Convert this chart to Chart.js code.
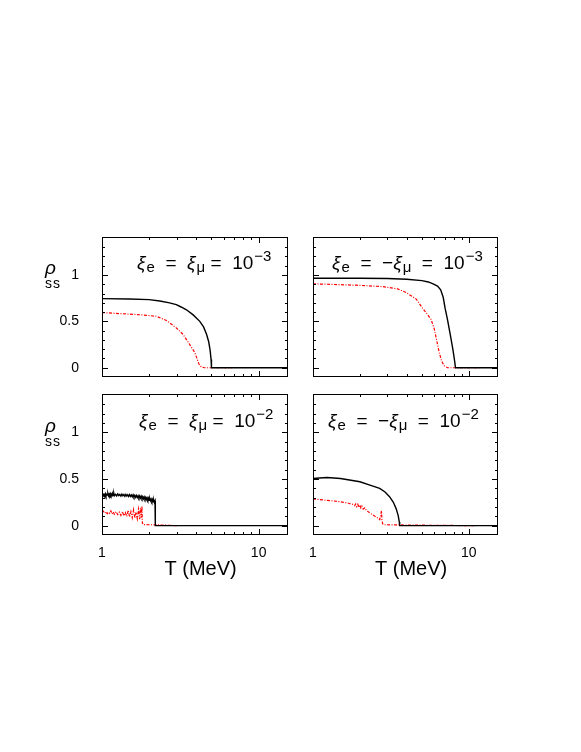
<!DOCTYPE html>
<html>
<head>
<meta charset="utf-8">
<script src="https://cdn.jsdelivr.net/npm/chart.js@4.4.1/dist/chart.umd.min.js"></script>
<style>
  body { margin:0; background:#fff; width:581px; height:752px; position:relative; overflow:hidden; font-family:"Liberation Sans", Arial, sans-serif; color:#000; }
  .panel { position:absolute; }
  .note { position:absolute; font-size:19px; line-height:19px; white-space:nowrap; }
  .note .g { font-style:italic; }
  .note .sb { font-size:15px; position:relative; top:3px; margin-left:1px; }
  .note .sp { font-size:15px; position:relative; top:-8px; margin-left:1px; }
  .rho { position:absolute; font-size:19px; line-height:19px; font-style:italic; }
  .ss { position:absolute; font-size:14px; line-height:14px; letter-spacing:1px; }
</style>
</head>
<body>
<div class="panel" style="left:52px; top:236px; width:240px; height:143px;"><canvas id="cTL"></canvas></div>
<div class="panel" style="left:303px; top:236px; width:199px; height:143px;"><canvas id="cTR"></canvas></div>
<div class="panel" style="left:52px; top:393px; width:240px; height:197px;"><canvas id="cBL"></canvas></div>
<div class="panel" style="left:303px; top:393px; width:199px; height:197px;"><canvas id="cBR"></canvas></div>

<div class="rho" style="left:45px; top:258px;">ρ</div>
<div class="ss" style="left:45px; top:276px;">ss</div>
<div class="rho" style="left:45px; top:416px;">ρ</div>
<div class="ss" style="left:45px; top:434px;">ss</div>

<div class="note" style="left:137px; top:253px;"><span class="g">ξ</span><span class="sb">e</span>&nbsp; = &nbsp;<span class="g">ξ</span><span class="sb">μ</span>&nbsp;= &nbsp;10<span class="sp">−3</span></div>
<div class="note" style="left:332px; top:253px;"><span class="g">ξ</span><span class="sb">e</span>&nbsp; = &nbsp;−<span class="g">ξ</span><span class="sb">μ</span>&nbsp; = &nbsp;10<span class="sp">−3</span></div>
<div class="note" style="left:139px; top:411px;"><span class="g">ξ</span><span class="sb">e</span>&nbsp; = &nbsp;<span class="g">ξ</span><span class="sb">μ</span>&nbsp;= &nbsp;10<span class="sp">−2</span></div>
<div class="note" style="left:328px; top:411px;"><span class="g">ξ</span><span class="sb">e</span>&nbsp; = &nbsp;−<span class="g">ξ</span><span class="sb">μ</span>&nbsp; = &nbsp;10<span class="sp">−2</span></div>

<script>
// axis ranges (T in MeV, log scale)
const xMin = 1, xMax = 15.4;
const yMin = -0.1, yMax = 1.41;

// top left: xi_e = xi_mu = 1e-3
const tlBlackT = [1, 1.5, 2, 2.34, 2.7, 2.98, 3.2, 3.46, 3.82, 4.21, 4.45, 4.65, 4.8, 4.9, 4.97, 5.0, 8, 15.4];
const tlBlackRho = [0.745, 0.742, 0.735, 0.72, 0.70, 0.68, 0.655, 0.625, 0.57, 0.50, 0.44, 0.36, 0.28, 0.19, 0.09, 0, 0, 0];
const tlRedT = [1, 1.43, 1.8, 2.22, 2.58, 2.98, 3.29, 3.6, 3.91, 4.05, 4.16, 4.3, 4.5, 6.76];
const tlRedRho = [0.595, 0.58, 0.57, 0.555, 0.51, 0.43, 0.36, 0.26, 0.165, 0.095, 0.04, 0.01, 0.0, 0.0];

// top right: xi_e = -xi_mu = 1e-3
const trBlackT = [1, 2, 3, 4, 5, 5.5, 5.9, 6.3, 6.6, 6.85, 7.05, 7.3, 7.6, 7.9, 8.1, 8.22, 10, 15.4];
const trBlackRho = [0.965, 0.965, 0.962, 0.955, 0.94, 0.925, 0.905, 0.88, 0.84, 0.76, 0.64, 0.52, 0.36, 0.2, 0.08, 0, 0, 0];
const trRedT = [1, 1.9, 2.8, 3.5, 3.97, 4.6, 5.06, 5.4, 5.73, 6.0, 6.25, 6.47, 6.7, 6.96, 7.3, 11.9];
const trRedRho = [0.905, 0.89, 0.875, 0.85, 0.81, 0.74, 0.64, 0.58, 0.52, 0.42, 0.28, 0.16, 0.07, 0.02, 0, 0];

// bottom left: xi_e = xi_mu = 1e-2 (noisy)
const blBlackT = [1.00, 1.01, 1.02, 1.03, 1.04, 1.05, 1.06, 1.07, 1.08, 1.09, 1.10, 1.11, 1.12, 1.13, 1.14, 1.15, 1.16, 1.17, 1.18, 1.19,
  1.20, 1.22, 1.24, 1.26, 1.28, 1.30, 1.32, 1.34, 1.36, 1.38, 1.40, 1.42, 1.44, 1.46, 1.48, 1.50, 1.52, 1.54, 1.56, 1.58,
  1.60, 1.62, 1.64, 1.66, 1.68, 1.70, 1.72, 1.74, 1.76, 1.78, 1.80, 1.82, 1.84, 1.86, 1.88, 1.90, 1.92, 1.94, 1.96, 1.98,
  2.00, 2.02, 2.04, 2.06, 2.08, 2.10, 2.12, 2.14, 2.16, 2.18, 2.19, 15.4];
const blBlackRho = [0.326, 0.340, 0.321, 0.335, 0.324, 0.343, 0.319, 0.336, 0.327, 0.345, 0.321, 0.338, 0.323, 0.342, 0.324, 0.337, 0.320, 0.340, 0.326, 0.346,
  0.321, 0.335, 0.319, 0.340, 0.322, 0.334, 0.317, 0.338, 0.320, 0.333, 0.315, 0.335, 0.318, 0.331, 0.312, 0.333, 0.313, 0.328, 0.309, 0.330,
  0.307, 0.325, 0.304, 0.323, 0.302, 0.320, 0.298, 0.318, 0.296, 0.315, 0.292, 0.311, 0.288, 0.307, 0.285, 0.303, 0.281, 0.299, 0.276, 0.295,
  0.272, 0.290, 0.267, 0.285, 0.262, 0.280, 0.256, 0.275, 0.250, 0.265, 0.0, 0.0];
const blRedT = [1.00, 1.02, 1.04, 1.06, 1.08, 1.10, 1.12, 1.14, 1.16, 1.18, 1.20, 1.23, 1.26, 1.29, 1.32, 1.35, 1.38, 1.41, 1.44, 1.47,
  1.50, 1.53, 1.56, 1.59, 1.62, 1.65, 1.68, 1.71, 1.74, 1.76, 1.78, 1.80, 1.81, 1.83, 2.0, 2.3, 3.0];
const blRedRho = [0.140, 0.155, 0.135, 0.150, 0.128, 0.146, 0.132, 0.158, 0.125, 0.148, 0.122, 0.150, 0.118, 0.145, 0.110, 0.152, 0.105, 0.140, 0.098, 0.165,
  0.092, 0.150, 0.085, 0.170, 0.080, 0.145, 0.075, 0.175, 0.070, 0.190, 0.085, 0.210, 0.03, 0.012, 0.01, 0.008, 0.0];

// bottom right: xi_e = -xi_mu = 1e-2
const brBlackT = [1, 1.1, 1.23, 1.5, 2.0, 2.32, 2.68, 2.9, 3.1, 3.28, 3.42, 3.52, 3.58, 3.6, 5, 15.4];
const brBlackRho = [0.505, 0.51, 0.515, 0.505, 0.47, 0.435, 0.40, 0.36, 0.31, 0.25, 0.18, 0.11, 0.04, 0, 0, 0];
const brRedT = [1.00, 1.1, 1.2, 1.35, 1.5, 1.65, 1.73, 1.80, 1.85, 1.88, 1.91, 1.94, 1.97, 2.00, 2.03, 2.06, 2.10, 2.15, 2.21, 2.30,
  2.40, 2.50, 2.56, 2.62, 2.68, 2.72, 2.75, 2.77, 2.80, 2.85, 5, 11.1];
const brRedRho = [0.285, 0.28, 0.272, 0.265, 0.255, 0.245, 0.235, 0.228, 0.215, 0.232, 0.205, 0.228, 0.195, 0.222, 0.19, 0.21, 0.178, 0.19, 0.16, 0.14,
  0.12, 0.10, 0.09, 0.08, 0.065, 0.11, 0.16, 0.06, 0.02, 0.01, 0.005, 0.0];

Chart.defaults.font.family = "'Liberation Sans', Arial, sans-serif";
Chart.defaults.color = '#000';

function pts(xs, ys) { return xs.map((x, i) => ({ x: x, y: ys[i] })); }

// frame + inward ticks on all four sides
const frameTicks = {
  id: 'frameTicks',
  afterDraw(chart) {
    const { ctx, chartArea: a, scales: { x, y } } = chart;
    ctx.save();
    ctx.strokeStyle = '#000';
    ctx.lineWidth = 1;
    ctx.strokeRect(a.left + 0.5, a.top + 0.5, a.right - a.left - 1, a.bottom - a.top - 1);
    ctx.beginPath();
    y.ticks.forEach(t => {
      const v = t.value;
      if (v <= yMin + 1e-6 || v >= yMax - 1e-6) return;
      const major = Math.abs(v * 2 - Math.round(v * 2)) < 1e-6;
      const len = major ? 6 : 3;
      const py = Math.round(y.getPixelForValue(v)) + 0.5;
      ctx.moveTo(a.left, py); ctx.lineTo(a.left + len, py);
      ctx.moveTo(a.right, py); ctx.lineTo(a.right - len, py);
    });
    x.ticks.forEach(t => {
      const v = t.value;
      if (Math.abs(v - Math.round(v)) > 1e-6 || v < 2 || v > 10) return;
      const len = v === 10 ? 6 : 3;
      const px = Math.round(x.getPixelForValue(v)) + 0.5;
      ctx.moveTo(px, a.bottom); ctx.lineTo(px, a.bottom - len);
      ctx.moveTo(px, a.top); ctx.lineTo(px, a.top + len);
    });
    ctx.stroke();
    ctx.restore();
  }
};

function makePanel(id, bx, by, rx, ry, showX, showY) {
  new Chart(document.getElementById(id), {
    type: 'scatter',
    data: {
      datasets: [
        { data: pts(bx, by), borderColor: '#000', borderWidth: 1.4, showLine: true, pointRadius: 0, tension: 0 },
        { data: pts(rx, ry), borderColor: '#ff0000', borderWidth: 1.2, borderDash: [3, 1.5, 1, 1.5], showLine: true, pointRadius: 0, tension: 0 }
      ]
    },
    options: {
      responsive: true, maintainAspectRatio: false, animation: false,
      layout: { padding: { left: 0, top: 1, right: 4, bottom: 0 } },
      plugins: { legend: { display: false }, tooltip: { enabled: false } },
      scales: {
        x: {
          type: 'logarithmic', min: xMin, max: xMax,
          grid: { display: false, drawTicks: false }, border: { display: false },
          ticks: {
            display: showX, autoSkip: false, maxRotation: 0, padding: 10, font: { size: 14 },
            callback: v => Math.abs(v - 1) < 1e-9 ? '1' : (Math.abs(v - 10) < 1e-9 ? '10' : '')
          },
          title: { display: showX, text: '  T (MeV)', font: { size: 20 }, padding: { top: 0, bottom: 9 } },
          afterFit: s => { s.height = showX ? 55 : 2; s.paddingLeft = 0; s.paddingRight = 0; }
        },
        y: {
          min: yMin, max: yMax,
          grid: { display: false, drawTicks: false }, border: { display: false },
          ticks: {
            display: showY, stepSize: 0.1, autoSkip: false, padding: 23, font: { size: 14 },
            callback: v => Math.abs(v) < 1e-6 ? '0' : (Math.abs(v - 0.5) < 1e-6 ? '0.5' : (Math.abs(v - 1) < 1e-6 ? '1' : ''))
          },
          afterFit: s => { s.width = showY ? 50 : 10; s.paddingTop = 0; s.paddingBottom = 0; }
        }
      }
    },
    plugins: [frameTicks]
  });
}

makePanel('cTL', tlBlackT, tlBlackRho, tlRedT, tlRedRho, false, true);
makePanel('cTR', trBlackT, trBlackRho, trRedT, trRedRho, false, false);
makePanel('cBL', blBlackT, blBlackRho, blRedT, blRedRho, true, true);
makePanel('cBR', brBlackT, brBlackRho, brRedT, brRedRho, true, false);
</script>
</body>
</html>
